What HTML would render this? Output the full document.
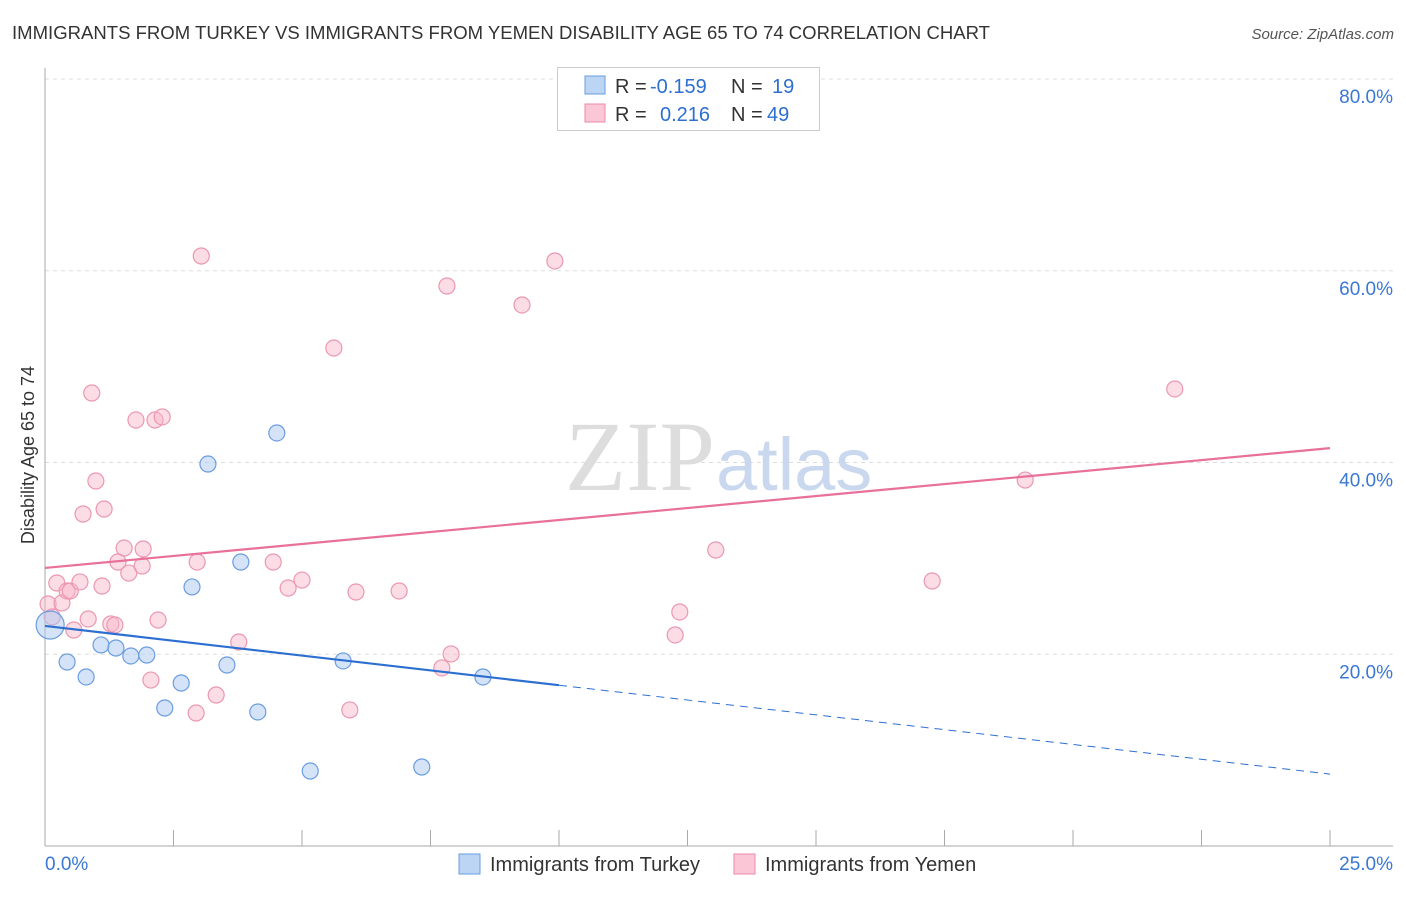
<!DOCTYPE html>
<html><head><meta charset="utf-8"><style>
body{margin:0;background:#fff;font-family:"Liberation Sans",sans-serif}
</style></head><body>
<svg width="1406" height="892" xmlns="http://www.w3.org/2000/svg" font-family="Liberation Sans, sans-serif">
<text x="12" y="39" font-size="18" fill="#333" textLength="978" lengthAdjust="spacingAndGlyphs">IMMIGRANTS FROM TURKEY VS IMMIGRANTS FROM YEMEN DISABILITY AGE 65 TO 74 CORRELATION CHART</text>
<text x="1394" y="39" font-size="15" fill="#555" font-style="italic" text-anchor="end">Source: ZipAtlas.com</text>
<g id="grid"></g>
<text x="715" y="490" font-size="100" fill="#ddd" text-anchor="end" font-family="Liberation Serif, serif">ZIP</text>
<text x="716" y="490" font-size="74" fill="#c9d8ee">atlas</text>
<text transform="translate(34,455) rotate(-90)" font-size="18" fill="#333" text-anchor="middle">Disability Age 65 to 74</text>
<g id="marks"></g>
<g>
<rect x="557.5" y="67.5" width="262" height="63" fill="#fff" stroke="#ccc"/>
<rect x="585" y="76" width="20" height="18" fill="#bcd5f5" stroke="#6a9de0"/>
<rect x="585" y="104" width="20" height="18" fill="#fbc7d6" stroke="#ea8aa8"/>
<text x="615" y="93" font-size="20" fill="#333">R = <tspan x="650" fill="#2d6fd0">-0.159</tspan><tspan x="731">N = </tspan><tspan x="772" fill="#2d6fd0">19</tspan></text>
<text x="615" y="121" font-size="20" fill="#333">R = <tspan x="660" fill="#2d6fd0">0.216</tspan><tspan x="731">N = </tspan><tspan x="767" fill="#2d6fd0">49</tspan></text>
</g>
<g>
<rect x="459" y="854" width="21" height="20" fill="#bcd5f5" stroke="#6a9de0"/>
<text x="490" y="871" font-size="20" fill="#333">Immigrants from Turkey</text>
<rect x="734" y="854" width="21" height="20" fill="#fbc7d6" stroke="#ea8aa8"/>
<text x="765" y="871" font-size="20" fill="#333">Immigrants from Yemen</text>
</g>
</svg>
<script>
const turkeyX=[0.10,0.43,0.80,1.09,1.38,1.67,1.98,2.33,2.65,2.86,3.17,3.54,3.81,4.14,4.51,5.16,5.80,7.33,8.52];
const turkeyY=[23.05,19.19,17.63,20.97,20.65,19.82,19.92,14.39,17.00,27.02,39.84,18.88,29.62,13.98,43.08,7.82,19.30,8.24,17.63];
const yemenX=[0.06,0.14,0.23,0.33,0.43,0.49,0.56,0.68,0.74,0.84,0.91,0.99,1.11,1.15,1.28,1.36,1.42,1.54,1.63,1.77,1.89,1.91,2.06,2.14,2.20,2.28,2.94,2.96,3.04,3.33,3.77,4.44,4.73,5.00,5.62,5.93,6.05,6.89,7.72,7.82,7.90,9.28,9.92,12.26,12.35,13.05,17.26,19.07,21.98];
const yemenY=[25.24,23.89,27.43,25.35,26.60,26.60,22.53,27.54,34.63,23.68,47.25,38.07,27.12,35.15,23.16,23.05,29.62,31.08,28.47,44.43,29.20,30.98,17.31,44.43,23.57,44.75,13.87,29.62,61.54,15.75,21.28,29.62,26.91,27.74,51.94,14.19,26.49,26.60,18.57,58.41,20.03,56.43,61.02,22.01,24.41,30.87,27.64,38.17,47.67];
const yTicks=[20,40,60,80];
const yTickLabels=["20.0%","40.0%","60.0%","80.0%"];
const xTicks=[0,2.5,5,7.5,10,12.5,15,17.5,20,22.5,25];
const xTickLabels=["0.0%","25.0%"];
const turkeyTrend=[22.95,7.5];
const yemenTrend=[29.0,41.5];
const NS="http://www.w3.org/2000/svg";
const X=v=>45+v/25*1285, Y=v=>846-v/80*767;
function mk(t,a,p){const e=document.createElementNS(NS,t);for(const k in a)e.setAttribute(k,a[k]);p.appendChild(e);return e;}
const g=document.getElementById('grid'), m=document.getElementById('marks');
yTicks.forEach((v,i)=>{
 const l=mk('line',{x1:45,x2:1393,y1:Y(v),y2:Y(v),stroke:'#ddd','stroke-dasharray':'4,4'},g);
 
 
 const t=mk('text',{x:1393,y:Y(v)+24,'font-size':19,fill:'#3a78d4','text-anchor':'end'},g);t.textContent=yTickLabels[i];
 
 
});
const ax=mk('line',{x1:45,x2:45,y1:68,y2:846,stroke:'#aaa'},g);


const bx=mk('line',{x1:45,x2:1393,y1:846,y2:846,stroke:'#aaa'},g);


xTicks.forEach(v=>{const l=mk('line',{x1:X(v),x2:X(v),y1:830,y2:846,stroke:'#aaa'},g);
 
 });
[[0,'start'],[25,'end']].forEach(([v,a],i)=>{const t=mk('text',{x:i?1393:45,y:870,'font-size':19,fill:'#3a78d4','text-anchor':a},g);t.textContent=xTickLabels[i];
 
 });
yemenX.forEach((x,i)=>{const c=mk('circle',{cx:X(x),cy:Y(yemenY[i]),r:8,fill:'rgba(248,180,200,0.45)',stroke:'#eb97b2','stroke-width':1.2},m);
 
 });
turkeyX.forEach((x,i)=>{const c=mk('circle',{cx:X(x),cy:Y(turkeyY[i]),r:i==0?14:8,fill:'rgba(170,200,240,0.5)',stroke:'#6a9de0','stroke-width':1.2},m);
 
 });
const yl=mk('line',{x1:X(0),y1:Y(yemenTrend[0]),x2:X(25),y2:Y(yemenTrend[1]),stroke:'#e8709a','stroke-width':2.2},m);


const tm=turkeyTrend[0]+(turkeyTrend[1]-turkeyTrend[0])*10/25;
const tl=mk('line',{x1:X(0),y1:Y(turkeyTrend[0]),x2:X(10),y2:Y(tm),stroke:'#2d6fd0','stroke-width':2.2},m);


const td=mk('line',{x1:X(10),y1:Y(tm),x2:X(25),y2:Y(turkeyTrend[1]),stroke:'#2d6fd0','stroke-width':1,'stroke-dasharray':'8,6'},m);


</script>
</body></html>
